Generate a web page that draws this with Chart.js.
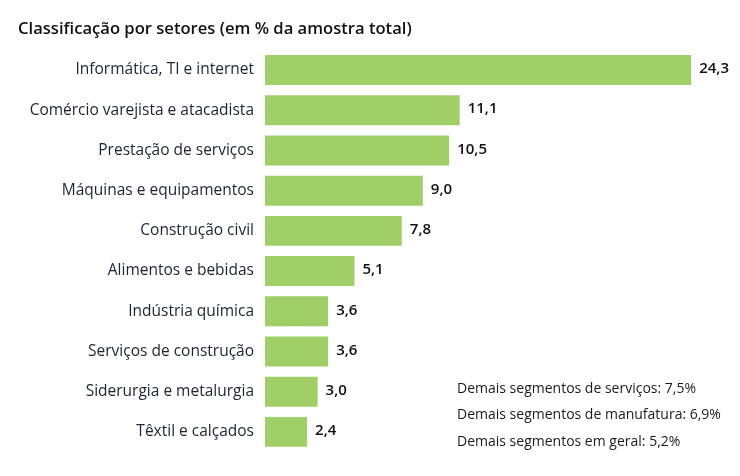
<!DOCTYPE html>
<html>
<head>
<meta charset="utf-8">
<script src="https://cdn.jsdelivr.net/npm/chart.js@4/dist/chart.umd.min.js"></script>
<style>
  html, body { margin: 0; padding: 0; background: #fff; }
  #wrap { width: 740px; height: 476px; }
</style>
</head>
<body>
<div id="wrap"><canvas id="setoresChart" width="740" height="476"></canvas></div>
<script>
const sectors = [
  'Informática, TI e internet',
  'Comércio varejista e atacadista',
  'Prestação de serviços',
  'Máquinas e equipamentos',
  'Construção civil',
  'Alimentos e bebidas',
  'Indústria química',
  'Serviços de construção',
  'Siderurgia e metalurgia',
  'Têxtil e calçados'
];
const shares = [24.3, 11.1, 10.5, 9.0, 7.8, 5.1, 3.6, 3.6, 3.0, 2.4];
const otherNotes = [
  'Demais segmentos de serviços: 7,5%',
  'Demais segmentos de manufatura: 6,9%',
  'Demais segmentos em geral: 5,2%'
];

const fontFamily = '"Open Sans", "DejaVu Sans", sans-serif';

// value at the end of each bar, with a comma as decimal separator
const valueLabels = {
  id: 'valueLabels',
  afterDatasetsDraw(chart) {
    const ctx = chart.ctx;
    const meta = chart.getDatasetMeta(0);
    ctx.save();
    ctx.font = '600 15px ' + fontFamily;
    ctx.fillStyle = '#111';
    ctx.textBaseline = 'middle';
    ctx.textAlign = 'left';
    meta.data.forEach((bar, i) => {
      ctx.fillText(shares[i].toFixed(1).replace('.', ','), bar.x + 8, bar.y - 1);
    });
    ctx.restore();
  }
};

// the three footnotes in the lower right corner
const notes = {
  id: 'notes',
  afterDraw(chart) {
    const ctx = chart.ctx;
    ctx.save();
    ctx.font = '14px ' + fontFamily;
    ctx.fillStyle = '#1a1a1a';
    ctx.textBaseline = 'middle';
    otherNotes.forEach((t, i) => {
      ctx.fillText(t, 457, 389 + i * 26.5);
    });
    ctx.restore();
  }
};

new Chart(document.getElementById('setoresChart'), {
  type: 'bar',
  data: {
    labels: sectors,
    datasets: [{
      data: shares,
      backgroundColor: '#a0cf67',
      borderWidth: 0,
      barPercentage: 0.745,
      categoryPercentage: 1.0
    }]
  },
  options: {
    indexAxis: 'y',
    responsive: false,
    animation: false,
    layout: {
      padding: { left: 18, right: 19, top: 12, bottom: 24 }
    },
    scales: {
      x: {
        min: 0,
        max: 26,
        display: false
      },
      y: {
        grid: { display: false, drawTicks: false },
        border: { display: false },
        ticks: {
          padding: 11,
          color: '#1c2333',
          font: { family: fontFamily, size: 15.5 }
        },
        afterFit(scale) {
          scale.width = 247;
        }
      }
    },
    plugins: {
      legend: { display: false },
      tooltip: { enabled: false },
      title: {
        display: true,
        text: 'Classificação por setores (em % da amostra total)',
        align: 'start',
        color: '#111',
        font: { family: fontFamily, size: 16.6, weight: '600' },
        padding: { top: 7, bottom: 11 }
      }
    }
  },
  plugins: [valueLabels, notes]
});
</script>
</body>
</html>
